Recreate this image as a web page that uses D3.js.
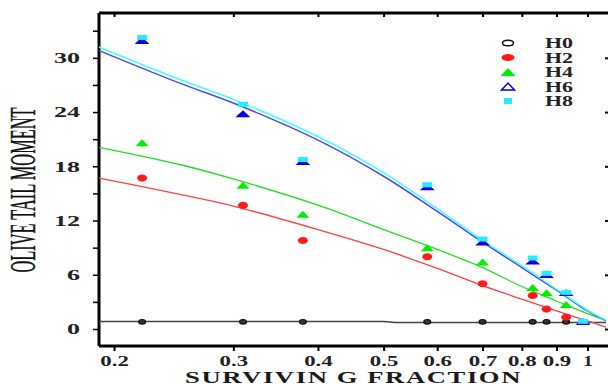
<!DOCTYPE html>
<html>
<head>
<meta charset="utf-8">
<style>
  body { margin: 0; background: #fff; }
  svg { display: block; }
  text { font-family: "Liberation Serif", "DejaVu Serif", serif; }
</style>
<script src="https://d3js.org/d3.v7.min.js"></script>
</head>
<body>
<svg width="608" height="385"></svg>
<script>
// measured points
var xVals = [0.22, 0.31, 0.38, 0.58, 0.70, 0.83, 0.87, 0.93];
var xVals68 = [0.22, 0.31, 0.38, 0.58, 0.70, 0.83, 0.87, 0.93, 0.985];
var h0 = [0.8, 0.8, 0.8, 0.8, 0.8, 0.8, 0.8, 0.8];
var h2 = [16.7, 13.7, 9.8, 8.0, 5.0, 3.7, 2.2, 1.3];
var h4 = [20.6, 15.9, 12.7, 9.0, 7.4, 4.6, 4.0, 2.7];
var h6 = [31.9, 23.8, 18.5, 15.7, 9.6, 7.5, 6.0, 4.0, 0.8];
var h8 = [32.2, 24.8, 18.7, 15.9, 9.9, 7.8, 6.1, 4.0, 0.8];

// fitted curves
var fitX = [0.19, 0.25, 0.3, 0.4, 0.5, 0.6, 0.7, 0.8, 0.9, 1.0, 1.065];
var fit2 = [16.7, 14.9, 13.6, 11.0, 8.8, 6.7, 4.8, 3.3, 2.0, 0.9, 0.2];
var fit4 = [20.1, 18.2, 16.6, 13.7, 11.0, 8.8, 6.8, 4.7, 3.1, 1.7, 1.0];
var fit6 = [30.8, 27.2, 25.0, 20.9, 16.9, 13.0, 9.6, 6.8, 4.3, 2.0, 0.9];
var fit8 = [31.2, 27.6, 25.4, 21.3, 17.3, 13.3, 9.8, 7.0, 4.4, 2.1, 1.0];
var fit0X = [0.19, 0.5, 0.52, 1.065];
var fit0 = [0.82, 0.82, 0.72, 0.72];

var xTicks = [0.2, 0.3, 0.4, 0.5, 0.6, 0.7, 0.8, 0.9, 1];
var yTicks = [0, 6, 12, 18, 24, 30];
var yMinor = [0, 3, 6, 9, 12, 15, 18, 21, 24, 27, 30, 33];
var legendNames = ["H0", "H2", "H4", "H6", "H8"];

var svg = d3.select("svg");
var pLeft = 99, pRight = 610, pTop = 13, pBottom = 346;

var x = d3.scaleLog().domain([0.19, 1.065]).range([99, 606]);
var y = d3.scaleLinear().domain([-1.88, 34.96]).range([pBottom, pTop]);

function zip(xs, ys) { return xs.map(function(d, i) { return [d, ys[i]]; }); }

function tri(w, h) {
  return "M" + (-w/2) + "," + (h/2) + "L0," + (-h/2) + "L" + (w/2) + "," + (h/2) + "Z";
}

// the source picture is stretched sideways, so text gets widened with textLength
function widen(sel, perChar) {
  sel.attr("textLength", function() { return this.textContent.length * perChar; })
    .attr("lengthAdjust", "spacingAndGlyphs");
}

// axes
var gx = svg.append("g").attr("transform", "translate(0," + pBottom + ")")
  .call(d3.axisBottom(x).tickValues(xTicks).tickSize(5).tickPadding(5)
    .tickFormat(function(d) { return d === 1 ? "1" : d3.format(".1f")(d); }));
gx.select(".domain").attr("stroke-width", 3).attr("d", "M" + pLeft + ",0H" + pRight);
gx.selectAll(".tick line").attr("stroke-width", 2);
gx.selectAll("text").attr("font-size", 14).attr("font-weight", "bold")
  .attr("fill", "#222").style("font-family", "'Liberation Serif', serif")
  .call(widen, 9.5);

var gt = svg.append("g").attr("transform", "translate(0," + pTop + ")")
  .call(d3.axisBottom(x).tickValues(xTicks).tickSize(4).tickFormat(""));
gt.select(".domain").attr("stroke-width", 3).attr("d", "M" + pLeft + ",0H" + pRight);
gt.selectAll(".tick line").attr("stroke-width", 2);

var gy = svg.append("g").attr("transform", "translate(" + pLeft + ",0)")
  .call(d3.axisLeft(y).tickValues(yMinor).tickSize(6).tickPadding(13)
    .tickFormat(function(d) { return yTicks.indexOf(d) >= 0 ? d : ""; }));
gy.select(".domain").attr("stroke-width", 3).attr("d", "M0," + pTop + "V" + pBottom);
gy.selectAll(".tick line").attr("stroke-width", 1.5);
gy.selectAll("text").attr("font-size", 15).attr("font-weight", "bold")
  .attr("fill", "#222").style("font-family", "'Liberation Serif', serif")
  .filter(function() { return this.textContent !== ""; })
  .call(widen, 13);

var gr = svg.append("g").attr("transform", "translate(" + pRight + ",0)")
  .call(d3.axisRight(y).tickValues(yTicks).tickSize(-5).tickFormat(""));
gr.selectAll(".tick line").attr("stroke-width", 2);

// titles
svg.append("text")
  .attr("x", 185).attr("y", 383)
  .attr("textLength", 337).attr("lengthAdjust", "spacingAndGlyphs")
  .attr("font-size", 17).attr("font-weight", "bold").attr("fill", "#1a1a1a")
  .style("letter-spacing", "1px")
  .text("SURVIVIN G FRACTION");

svg.append("text")
  .attr("transform", "translate(35,190)rotate(-90)")
  .attr("text-anchor", "middle")
  .attr("textLength", 165).attr("lengthAdjust", "spacingAndGlyphs")
  .attr("font-size", 36).attr("fill", "#111")
  .attr("stroke", "#111").attr("stroke-width", 0.4)
  .text("OLIVE TAIL MOMENT");

// fitted lines
var line = d3.line()
  .x(function(d) { return x(d[0]); })
  .y(function(d) { return y(d[1]); })
  .curve(d3.curveCatmullRom.alpha(0.5));

var fits = [
  [zip(fit0X, fit0), "#444", 1.5, d3.curveLinear],
  [zip(fitX, fit2), "#ff4040", 1.3],
  [zip(fitX, fit4), "#22dd22", 1.3],
  [zip(fitX, fit6), "#4a4aee", 1.5],
  [zip(fitX, fit8), "#44ffff", 1.5]
];
fits.forEach(function(f) {
  var gen = f[3] ? d3.line().x(line.x()).y(line.y()).curve(f[3]) : line;
  svg.append("path").datum(f[0]).attr("d", gen)
    .attr("fill", "none").attr("stroke", f[1]).attr("stroke-width", f[2]);
});

// points
svg.append("g").selectAll("ellipse").data(zip(xVals, h0)).enter().append("ellipse")
  .attr("cx", function(d) { return x(d[0]); }).attr("cy", function(d) { return y(d[1]); })
  .attr("rx", 3.5).attr("ry", 2.3)
  .attr("fill", "#333").attr("stroke", "#111").attr("stroke-width", 1.2);

svg.append("g").selectAll("ellipse").data(zip(xVals, h2)).enter().append("ellipse")
  .attr("cx", function(d) { return x(d[0]); }).attr("cy", function(d) { return y(d[1]); })
  .attr("rx", 5).attr("ry", 3.5).attr("fill", "#ff1a1a");

svg.append("g").selectAll("path").data(zip(xVals, h4)).enter().append("path")
  .attr("transform", function(d) { return "translate(" + x(d[0]) + "," + y(d[1]) + ")"; })
  .attr("d", tri(13, 7)).attr("fill", "#00ee00");

svg.append("g").selectAll("path").data(zip(xVals68, h6)).enter().append("path")
  .attr("transform", function(d) { return "translate(" + x(d[0]) + "," + y(d[1]) + ")"; })
  .attr("d", tri(11, 5)).attr("fill", "#0000dd").attr("stroke", "#0000ee").attr("stroke-width", 1.5);

svg.append("g").selectAll("rect").data(zip(xVals68, h8)).enter().append("rect")
  .attr("x", function(d) { return x(d[0]) - 5; }).attr("y", function(d) { return y(d[1]) - 3; })
  .attr("width", 10).attr("height", 5).attr("fill", "#22eeff");

// legend
var leg = svg.append("g").attr("transform", "translate(508,43)");
var rows = leg.selectAll("g").data(legendNames).enter().append("g")
  .attr("transform", function(d, i) { return "translate(0," + (i * 14.5) + ")"; });
rows.append("text").attr("x", 37).attr("y", 5)
  .attr("font-size", 14).attr("font-weight", "bold").attr("fill", "#222")
  .text(function(d) { return d; })
  .call(widen, 14);
leg.append("ellipse").attr("rx", 5.5).attr("ry", 2.8)
  .attr("fill", "none").attr("stroke", "#111").attr("stroke-width", 1.5);
leg.append("ellipse").attr("cy", 14.5).attr("rx", 6.5).attr("ry", 3.5).attr("fill", "#ff1a1a");
leg.append("path").attr("transform", "translate(0,29)").attr("d", tri(15, 8)).attr("fill", "#00ee00");
leg.append("path").attr("transform", "translate(0,43.5)").attr("d", tri(13, 7))
  .attr("fill", "none").attr("stroke", "#0000ee").attr("stroke-width", 1.5);
leg.append("rect").attr("x", -4).attr("y", 55).attr("width", 8).attr("height", 6).attr("fill", "#22eeff");
</script>
</body>
</html>
